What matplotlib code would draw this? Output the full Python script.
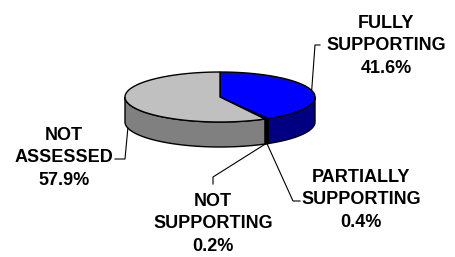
import numpy as np
import matplotlib.pyplot as plt
from matplotlib.patches import Polygon

labels = ['FULLY\nSUPPORTING', 'PARTIALLY\nSUPPORTING', 'NOT\nSUPPORTING', 'NOT\nASSESSED']
values = [41.6, 0.4, 0.2, 57.9]
top_colors = ['#0000FF', '#000080', '#000000', '#C0C0C0']
side_colors = ['#000080', '#000000', '#000000', '#808080']

# pie geometry in pixels
cx, cy, rx, ry, depth = 220, 97, 95, 25, 25

# label centres and leader elbows (pixels)
text_pos = [(386, 46), (361, 200), (213, 224), (64, 158)]
elbows = [[(315, 45), (320, 45)],
          [(293, 201), (300, 201)],
          [(213, 177), (213, 184)],
          [(125, 159), (115, 159)]]

fig = plt.figure(figsize=(4.55, 2.57), dpi=100)
ax = fig.add_axes([0, 0, 1, 1])
ax.set_xlim(0, 455)
ax.set_ylim(257, 0)
ax.axis('off')

def pt(a, dy=0):
    r = np.radians(a)
    return cx + rx * np.cos(r), cy - ry * np.sin(r) + dy

fr = np.array(values) / sum(values)
bounds = 90 - 360 * np.concatenate([[0], np.cumsum(fr)])

# sides (front half only: angles between -180 and 0)
for i in range(len(values)):
    a1, a2 = bounds[i], bounds[i + 1]
    for off in (0, -360):
        lo = max(a2 + off, -180)
        hi = min(a1 + off, 0)
        if hi <= lo:
            continue
        ang = np.linspace(hi, lo, 60)
        top = [pt(a) for a in ang]
        bot = [pt(a, depth) for a in ang[::-1]]
        ax.add_patch(Polygon(top + bot, closed=True, fc=side_colors[i],
                             ec='black', lw=1))

# tops
for i in range(len(values)):
    ang = np.linspace(bounds[i], bounds[i + 1], 200)
    poly = [(cx, cy)] + [pt(a) for a in ang]
    ax.add_patch(Polygon(poly, closed=True, fc=top_colors[i],
                         ec='black', lw=1, joinstyle='miter'))

# labels and leaders
for i in range(len(values)):
    mid = (bounds[i] + bounds[i + 1]) / 2
    s = np.sin(np.radians(mid))
    anchor = pt(mid, depth if s < 0 else 0)
    path = [anchor] + elbows[i]
    xs, ys = zip(*path)
    ax.plot(xs, ys, color='black', lw=0.8)
    ax.text(text_pos[i][0], text_pos[i][1], f'{labels[i]}\n{values[i]}%',
            ha='center', va='center', fontsize=13, fontweight='bold',
            family='Liberation Sans', linespacing=1.45)

fig.savefig('out.png', dpi=100)
